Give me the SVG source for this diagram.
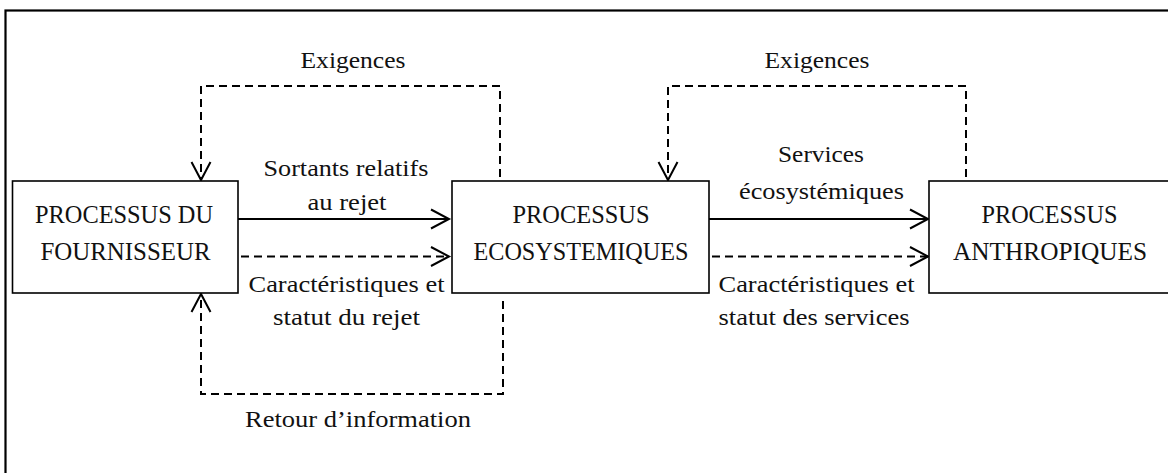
<svg xmlns="http://www.w3.org/2000/svg" width="1168" height="473" viewBox="0 0 1168 473">
  <style>
    .frame { fill: none; stroke: #000; stroke-width: 2.2; }
    .box { fill: #fff; stroke: #000; stroke-width: 1.6; }
    .lbl { font-family: "Liberation Serif", "Times New Roman", serif; font-size: 23px; fill: #111; text-anchor: middle; }
    .btx { font-family: "Liberation Serif", "Times New Roman", serif; font-size: 25px; fill: #111; text-anchor: middle; }
    .solid { fill: none; stroke: #000; stroke-width: 2; }
    .dash { fill: none; stroke: #000; stroke-width: 2; stroke-dasharray: 8 5; }
  </style>
  <defs>
    <marker id="arr" markerUnits="userSpaceOnUse" markerWidth="22" markerHeight="24" refX="19" refY="11" orient="auto" overflow="visible">
      <path d="M1,1.5 L19,11 L1,20.5" fill="none" stroke="#000" stroke-width="2" stroke-dasharray="none"/>
    </marker>
  </defs>
  <rect width="1168" height="473" fill="#fff"/>
  <rect class="frame" x="5.5" y="10.5" width="1200" height="520"/>

  <g id="connectors">
    <path class="dash" d="M500,177 V86 H201 V180" marker-end="url(#arr)"/>
    <path class="dash" d="M966,177 V86 H668 V180" marker-end="url(#arr)"/>
    <path class="dash" d="M503,301 V394 H201 V294" marker-end="url(#arr)"/>
    <path class="solid" d="M238,219 H449" marker-end="url(#arr)"/>
    <path class="dash" d="M241,256.5 H449" marker-end="url(#arr)"/>
    <path class="solid" d="M709,219 H928" marker-end="url(#arr)"/>
    <path class="dash" d="M712,256.5 H928" marker-end="url(#arr)"/>
    <text class="lbl" x="353" y="68" textLength="105" lengthAdjust="spacingAndGlyphs">Exigences</text>
    <text class="lbl" x="817" y="68" textLength="105" lengthAdjust="spacingAndGlyphs">Exigences</text>
    <text class="lbl" x="346" y="176" textLength="165" lengthAdjust="spacingAndGlyphs">Sortants relatifs</text>
    <text class="lbl" x="347" y="210" textLength="79" lengthAdjust="spacingAndGlyphs">au rejet</text>
    <text class="lbl" x="346.5" y="292" textLength="196" lengthAdjust="spacingAndGlyphs">Caractéristiques et</text>
    <text class="lbl" x="346.5" y="325" textLength="147" lengthAdjust="spacingAndGlyphs">statut du rejet</text>
    <text class="lbl" x="358" y="427" textLength="226" lengthAdjust="spacingAndGlyphs">Retour d’information</text>
    <text class="lbl" x="821" y="162" textLength="86" lengthAdjust="spacingAndGlyphs">Services</text>
    <text class="lbl" x="821.5" y="199" textLength="165" lengthAdjust="spacingAndGlyphs">écosystémiques</text>
    <text class="lbl" x="816.5" y="292" textLength="196" lengthAdjust="spacingAndGlyphs">Caractéristiques et</text>
    <text class="lbl" x="814" y="325" textLength="191" lengthAdjust="spacingAndGlyphs">statut des services</text>
  </g>

  <g id="fournisseur">
    <rect class="box" x="12.5" y="181" width="225.5" height="112"/>
    <text class="btx" x="124" y="223" textLength="178" lengthAdjust="spacingAndGlyphs">PROCESSUS DU</text>
    <text class="btx" x="125.5" y="260" textLength="170" lengthAdjust="spacingAndGlyphs">FOURNISSEUR</text>
  </g>
  <g id="ecosystemiques">
    <rect class="box" x="452" y="181" width="257" height="112"/>
    <text class="btx" x="581" y="223" textLength="137" lengthAdjust="spacingAndGlyphs">PROCESSUS</text>
    <text class="btx" x="581" y="260" textLength="215" lengthAdjust="spacingAndGlyphs">ECOSYSTEMIQUES</text>
  </g>
  <g id="anthropiques">
    <rect class="box" x="929" y="181" width="300" height="112"/>
    <text class="btx" x="1049.5" y="223" textLength="136" lengthAdjust="spacingAndGlyphs">PROCESSUS</text>
    <text class="btx" x="1050" y="260" textLength="194" lengthAdjust="spacingAndGlyphs">ANTHROPIQUES</text>
  </g>
</svg>
